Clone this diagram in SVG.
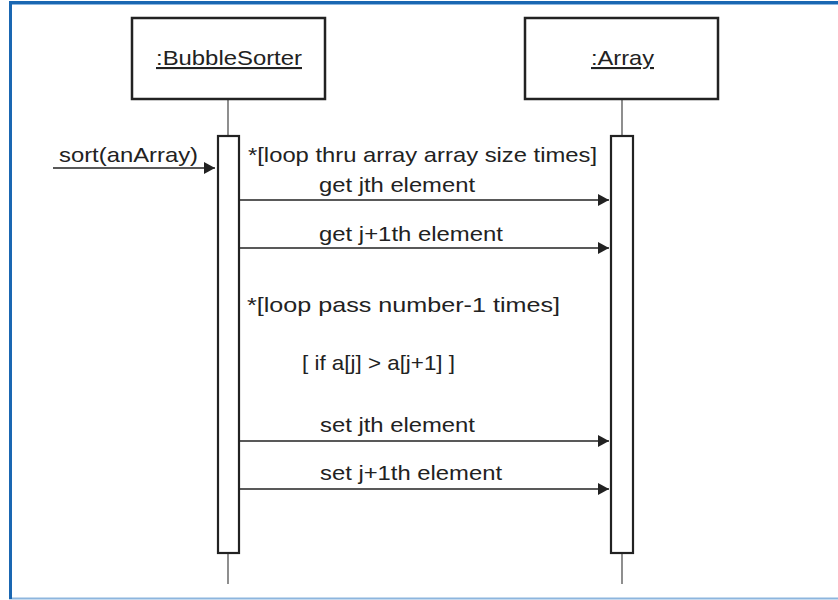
<svg xmlns="http://www.w3.org/2000/svg" width="838" height="600" viewBox="0 0 838 600">
<style>
text{font-family:"Liberation Sans",Arial,sans-serif;font-size:21px;fill:#222}
.box{fill:#fff;stroke:#222;stroke-width:2.5}
.bar{fill:#fff;stroke:#222;stroke-width:2.2}
.life{stroke:#444;stroke-width:1.2}
.msg{stroke:#222;stroke-width:1.3;fill:none}
</style>
<defs>
<marker id="ah" markerWidth="11" markerHeight="12" refX="11" refY="6" orient="auto" markerUnits="userSpaceOnUse">
<path d="M0,0 L11,6 L0,12 Z" fill="#222"/>
</marker>
</defs>
<rect width="838" height="600" fill="#fff"/>
<g id="frame">
<line x1="9" y1="598.5" x2="838" y2="598.5" stroke="#8db6de" stroke-width="2"/>
<line x1="10.5" y1="2" x2="10.5" y2="599" stroke="#1a67b2" stroke-width="3"/>
<line x1="9" y1="2.5" x2="838" y2="2.5" stroke="#1a67b2" stroke-width="3"/>
<line x1="12" y1="4.5" x2="838" y2="4.5" stroke="#8db6de" stroke-width="1"/>
</g>
<g id="bubblesorter">
<line class="life" x1="228" y1="99" x2="228" y2="584"/>
<rect class="box" x="132" y="18" width="193" height="81"/>
<text x="156" y="65" textLength="146" lengthAdjust="spacingAndGlyphs" text-decoration="underline">:BubbleSorter</text>
<rect class="bar" x="218" y="136" width="21" height="417"/>
</g>
<g id="array">
<line class="life" x1="622" y1="99" x2="622" y2="584"/>
<rect class="box" x="525" y="18" width="193" height="81"/>
<text x="591" y="65" textLength="63" lengthAdjust="spacingAndGlyphs" text-decoration="underline">:Array</text>
<rect class="bar" x="611" y="136" width="22" height="417"/>
</g>
<g id="connectors">
<line class="msg" x1="53" y1="168" x2="215" y2="168" marker-end="url(#ah)"/>
<line class="msg" x1="239" y1="200" x2="609" y2="200" marker-end="url(#ah)"/>
<line class="msg" x1="239" y1="248" x2="609" y2="248" marker-end="url(#ah)"/>
<line class="msg" x1="239" y1="441" x2="609" y2="441" marker-end="url(#ah)"/>
<line class="msg" x1="239" y1="489" x2="609" y2="489" marker-end="url(#ah)"/>
</g>
<g id="labels">
<text x="59" y="162" textLength="139" lengthAdjust="spacingAndGlyphs">sort(anArray)</text>
<text x="248" y="162" textLength="349" lengthAdjust="spacingAndGlyphs">*[loop thru array array size times]</text>
<text x="319" y="192" textLength="156" lengthAdjust="spacingAndGlyphs">get jth element</text>
<text x="319" y="241" textLength="184" lengthAdjust="spacingAndGlyphs">get j+1th element</text>
<text x="247" y="312" textLength="313" lengthAdjust="spacingAndGlyphs">*[loop pass number-1 times]</text>
<text x="302" y="370" textLength="153" lengthAdjust="spacingAndGlyphs">[ if a[j] &gt; a[j+1] ]</text>
<text x="320" y="432" textLength="155" lengthAdjust="spacingAndGlyphs">set jth element</text>
<text x="320" y="480" textLength="182" lengthAdjust="spacingAndGlyphs">set j+1th element</text>
</g>
</svg>
